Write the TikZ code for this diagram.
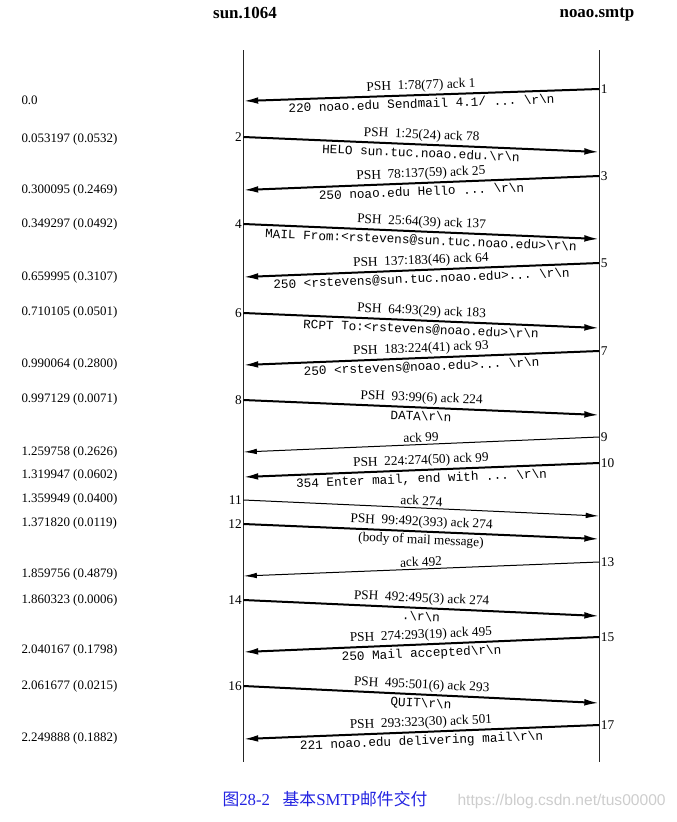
\documentclass[tikz,border=0pt]{standalone}
\usepackage{fontspec}
\setmainfont{Liberation Serif}
\setmonofont{Liberation Mono}
\newfontfamily\cjkfont{Noto Sans CJK SC}
\newfontfamily\wmfont{Liberation Sans}
\usetikzlibrary{arrows.meta}
\definecolor{capblue}{RGB}{35,35,225}
\definecolor{wmgray}{RGB}{205,205,205}
\newcommand{\bsrn}{\textbackslash r\textbackslash n}

\tikzset{every picture/.style={line width=0.75pt}}

\begin{document}
\begin{tikzpicture}[x=0.75pt,y=0.75pt,yscale=-1,xscale=1,
  pshline/.style={line width=1.5pt,-{Latex[length=11pt,width=5pt]}},
  ackline/.style={line width=0.75pt,-{Latex[length=10pt,width=4.2pt]}},
  hostlbl/.style={font=\bfseries\fontsize{12.7}{14}\selectfont,inner sep=0.75pt},
  pshlbl/.style={font=\fontsize{10}{12}\selectfont,inner sep=0.5pt,midway,above=1pt,rotate=#1},
  msglbl/.style={font=\ttfamily\fontsize{9.5}{11}\selectfont,inner sep=0.5pt,midway,below=1.5pt,rotate=#1},
  bodylbl/.style={font=\fontsize{10}{12}\selectfont,inner sep=0.5pt,midway,below=1pt,rotate=#1},
  numR/.style={anchor=west,font=\fontsize{10}{12}\selectfont,inner sep=1pt},
  numL/.style={anchor=east,font=\fontsize{10}{12}\selectfont,inner sep=1pt},
  timelbl/.style={anchor=west,font=\fontsize{9.7}{12}\selectfont,inner sep=0.75pt}]
\useasboundingbox (0,0) rectangle (676,822);

% Text Node
\node[hostlbl] (sun) at (245,13) {sun.1064};
% Text Node
\node[hostlbl] (noao) at (597,15) {noao.smtp};

%Straight Lines [time lines]
\coordinate (sunT) at (243.5,50); \coordinate (sunB) at (243.5,762);
\coordinate (noaoT) at (599,50); \coordinate (noaoB) at (599,762);
\draw [color=black!85] (sunT) -- (sunB);
\draw [color=black!85] (noaoT) -- (noaoB);

%Straight Lines [segment 1]
\coordinate (s1) at (599,89); \coordinate (e1) at (243.5,101);
\node[numR] (n1) at (s1) {1};
\draw [pshline] (s1) -- (e1)
  node[pshlbl=1.93] (p1) {PSH\ \ 1:78(77) ack 1}
  node[msglbl=1.93] (m1) {220 noao.edu Sendmail 4.1/ ... \bsrn};
%Straight Lines [segment 2]
\coordinate (s2) at (243.5,137); \coordinate (e2) at (599,152);
\node[numL] (n2) at (s2) {2};
\draw [pshline] (s2) -- (e2)
  node[pshlbl=-2.42] (p2) {PSH\ \ 1:25(24) ack 78}
  node[msglbl=-2.42] (m2) {HELO sun.tuc.noao.edu.\bsrn};
%Straight Lines [segment 3]
\coordinate (s3) at (599,176); \coordinate (e3) at (243.5,190);
\node[numR] (n3) at (s3) {3};
\draw [pshline] (s3) -- (e3)
  node[pshlbl=2.26] (p3) {PSH\ \ 78:137(59) ack 25}
  node[msglbl=2.26] (m3) {250 noao.edu Hello ... \bsrn};
%Straight Lines [segment 4]
\coordinate (s4) at (243.5,224); \coordinate (e4) at (599,239);
\node[numL] (n4) at (s4) {4};
\draw [pshline] (s4) -- (e4)
  node[pshlbl=-2.42] (p4) {PSH\ \ 25:64(39) ack 137}
  node[msglbl=-2.42] (m4) {MAIL From:<rstevens@sun.tuc.noao.edu>\bsrn};
%Straight Lines [segment 5]
\coordinate (s5) at (599,263); \coordinate (e5) at (243.5,277);
\node[numR] (n5) at (s5) {5};
\draw [pshline] (s5) -- (e5)
  node[pshlbl=2.26] (p5) {PSH\ \ 137:183(46) ack 64}
  node[msglbl=2.26] (m5) {250 <rstevens@sun.tuc.noao.edu>... \bsrn};
%Straight Lines [segment 6]
\coordinate (s6) at (243.5,313); \coordinate (e6) at (599,328);
\node[numL] (n6) at (s6) {6};
\draw [pshline] (s6) -- (e6)
  node[pshlbl=-2.42] (p6) {PSH\ \ 64:93(29) ack 183}
  node[msglbl=-2.42] (m6) {RCPT To:<rstevens@noao.edu>\bsrn};
%Straight Lines [segment 7]
\coordinate (s7) at (599,351); \coordinate (e7) at (243.5,365);
\node[numR] (n7) at (s7) {7};
\draw [pshline] (s7) -- (e7)
  node[pshlbl=2.26] (p7) {PSH\ \ 183:224(41) ack 93}
  node[msglbl=2.26] (m7) {250 <rstevens@noao.edu>... \bsrn};
%Straight Lines [segment 8]
\coordinate (s8) at (243.5,400); \coordinate (e8) at (599,415);
\node[numL] (n8) at (s8) {8};
\draw [pshline] (s8) -- (e8)
  node[pshlbl=-2.42] (p8) {PSH\ \ 93:99(6) ack 224}
  node[msglbl=-2.42] (m8) {DATA\bsrn};
%Straight Lines [segment 9]
\coordinate (s9) at (599,437); \coordinate (e9) at (243.5,452);
\node[numR] (n9) at (s9) {9};
\draw [ackline] (s9) -- (e9)
  node[pshlbl=2.42] (p9) {ack 99};
%Straight Lines [segment 10]
\coordinate (s10) at (599,463); \coordinate (e10) at (243.5,477);
\node[numR] (n10) at (s10) {10};
\draw [pshline] (s10) -- (e10)
  node[pshlbl=2.26] (p10) {PSH\ \ 224:274(50) ack 99}
  node[msglbl=2.26] (m10) {354 Enter mail, end with ... \bsrn};
%Straight Lines [segment 11]
\coordinate (s11) at (243.5,500); \coordinate (e11) at (599,516);
\node[numL] (n11) at (s11) {11};
\draw [ackline] (s11) -- (e11)
  node[pshlbl=-2.58] (p11) {ack 274};
%Straight Lines [segment 12]
\coordinate (s12) at (243.5,524); \coordinate (e12) at (599,539);
\node[numL] (n12) at (s12) {12};
\draw [pshline] (s12) -- (e12)
  node[pshlbl=-2.42] (p12) {PSH\ \ 99:492(393) ack 274}
  node[bodylbl=-2.42] (m12) {(body of mail message)};
%Straight Lines [segment 13]
\coordinate (s13) at (599,562); \coordinate (e13) at (243.5,576);
\node[numR] (n13) at (s13) {13};
\draw [ackline] (s13) -- (e13)
  node[pshlbl=2.26] (p13) {ack 492};
%Straight Lines [segment 14]
\coordinate (s14) at (243.5,600); \coordinate (e14) at (599,616);
\node[numL] (n14) at (s14) {14};
\draw [pshline] (s14) -- (e14)
  node[pshlbl=-2.58] (p14) {PSH\ \ 492:495(3) ack 274}
  node[msglbl=-2.58] (m14) {.\bsrn};
%Straight Lines [segment 15]
\coordinate (s15) at (599,637); \coordinate (e15) at (243.5,652);
\node[numR] (n15) at (s15) {15};
\draw [pshline] (s15) -- (e15)
  node[pshlbl=2.42] (p15) {PSH\ \ 274:293(19) ack 495}
  node[msglbl=2.42] (m15) {250 Mail accepted\bsrn};
%Straight Lines [segment 16]
\coordinate (s16) at (243.5,686); \coordinate (e16) at (599,703);
\node[numL] (n16) at (s16) {16};
\draw [pshline] (s16) -- (e16)
  node[pshlbl=-2.74] (p16) {PSH\ \ 495:501(6) ack 293}
  node[msglbl=-2.74] (m16) {QUIT\bsrn};
%Straight Lines [segment 17]
\coordinate (s17) at (599,725); \coordinate (e17) at (243.5,739);
\node[numR] (n17) at (s17) {17};
\draw [pshline] (s17) -- (e17)
  node[pshlbl=2.26] (p17) {PSH\ \ 293:323(30) ack 501}
  node[msglbl=2.26] (m17) {221 noao.edu delivering mail\bsrn};

% Text Node [times]
\node[timelbl] (t1) at (20,100) {0.0};
\node[timelbl] (t2) at (20,139) {0.053197 (0.0532)};
\node[timelbl] (t3) at (20,190) {0.300095 (0.2469)};
\node[timelbl] (t4) at (20,224) {0.349297 (0.0492)};
\node[timelbl] (t5) at (20,277) {0.659995 (0.3107)};
\node[timelbl] (t6) at (20,312) {0.710105 (0.0501)};
\node[timelbl] (t7) at (20,364) {0.990064 (0.2800)};
\node[timelbl] (t8) at (20,399) {0.997129 (0.0071)};
\node[timelbl] (t9) at (20,452) {1.259758 (0.2626)};
\node[timelbl] (t10) at (20,475) {1.319947 (0.0602)};
\node[timelbl] (t11) at (20,499) {1.359949 (0.0400)};
\node[timelbl] (t12) at (20,523) {1.371820 (0.0119)};
\node[timelbl] (t13) at (20,574) {1.859756 (0.4879)};
\node[timelbl] (t14) at (20,600) {1.860323 (0.0006)};
\node[timelbl] (t15) at (20,650) {2.040167 (0.1798)};
\node[timelbl] (t16) at (20,686) {2.061677 (0.0215)};
\node[timelbl] (t17) at (20,738) {2.249888 (0.1882)};

% Text Node [caption]
\node[anchor=west,inner sep=0pt,color=capblue,font=\fontsize{12.6}{14}\selectfont] (cap) at (222,799)
  {{\cjkfont 图}28-2\ \ \ {\cjkfont 基本}SMTP{\cjkfont 邮件交付}};
% Text Node [watermark]
\node[anchor=west,inner sep=0pt,color=wmgray,font=\wmfont\fontsize{11.7}{14}\selectfont] (wm) at (457,801)
  {https://blog.csdn.net/tus00000};

\end{tikzpicture}
\end{document}
